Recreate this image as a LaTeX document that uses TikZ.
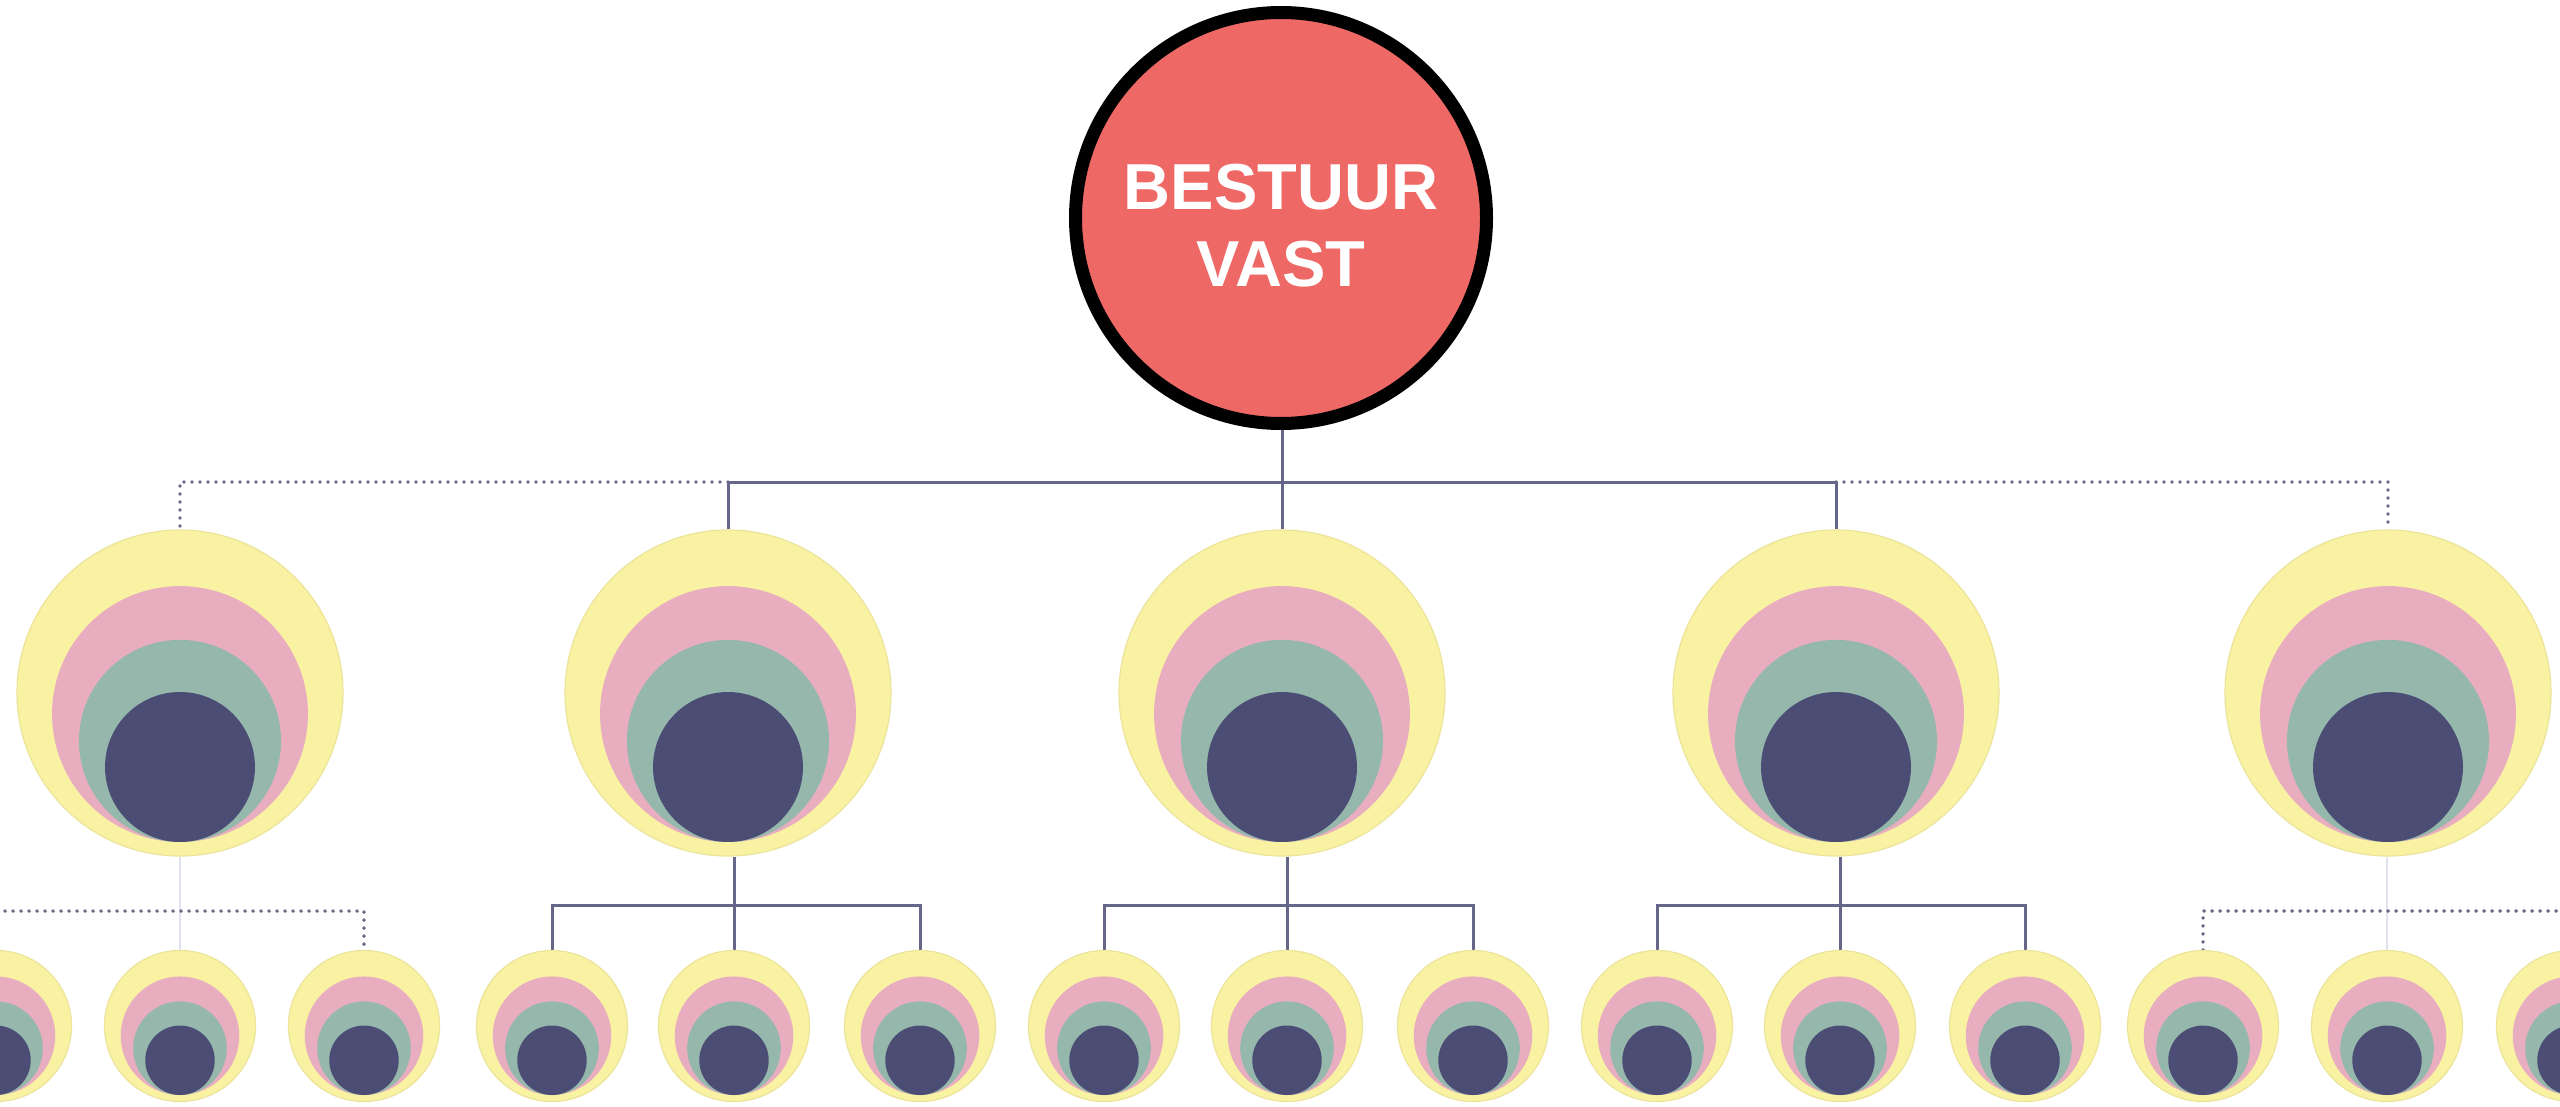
\documentclass[tikz,border=0pt]{standalone}
\usepackage{fontspec}
\setmainfont{Liberation Sans}
\usetikzlibrary{backgrounds}
\definecolor{yellowc}{HTML}{F9F2A2}
\definecolor{yellowedge}{HTML}{ECE49A}
\definecolor{pinkc}{HTML}{E8AEBF}
\definecolor{greenc}{HTML}{96B7AC}
\definecolor{navyc}{HTML}{4B4D74}
\definecolor{topfill}{HTML}{EE6966}
\definecolor{connc}{HTML}{66668A}
\definecolor{dotc}{HTML}{6A6A86}
\definecolor{faintc}{HTML}{E2E2EE}
\tikzset{
  yel/.style={circle, inner sep=0pt, fill=yellowc, draw=yellowedge, line width=1.2pt},
  topnode/.style={circle, inner sep=0pt, fill=topfill, draw=black, line width=13pt, minimum size=411pt},
  toptext/.style={text=white, align=center, font=\fontsize{65}{77}\selectfont\bfseries},
  conn/.style={draw=connc, line width=3pt},
  dotl/.style={draw=dotc, line width=3.8pt, line cap=round, dash pattern=on 0pt off 8pt},
  faint/.style={draw=faintc, line width=2pt}
}
\newcommand\target[4]{%
  \node[yel, minimum size={2*#4*1pt}] (#1) at (#2,#3) {};
  \fill[pinkc] (#2,{#3+0.129*#4}) circle[radius={0.785*#4*1pt}];
  \fill[greenc] (#2,{#3+0.294*#4}) circle[radius={0.62*#4*1pt}];
  \fill[navyc] (#2,{#3+0.454*#4}) circle[radius={0.46*#4*1pt}];
}
\begin{document}
\begin{tikzpicture}[x=1pt,y=-1pt]
\useasboundingbox (0,0) rectangle (2560,1107);
% top node
\node[topnode] (top) at (1281,218) {};
\node[toptext] (toplabel) at (1281,226) {BESTUUR\\VAST};
% level 2
\target{p1}{180}{693}{163}
\target{p2}{728}{693}{163}
\target{p3}{1282}{693}{163}
\target{p4}{1836}{693}{163}
\target{p5}{2388}{693}{163}
% level 3
\target{c11}{-4}{1026}{75.5}
\target{c12}{180}{1026}{75.5}
\target{c13}{364}{1026}{75.5}
\target{c21}{552}{1026}{75.5}
\target{c22}{734}{1026}{75.5}
\target{c23}{920}{1026}{75.5}
\target{c31}{1104}{1026}{75.5}
\target{c32}{1287}{1026}{75.5}
\target{c33}{1473}{1026}{75.5}
\target{c41}{1657}{1026}{75.5}
\target{c42}{1840}{1026}{75.5}
\target{c43}{2025}{1026}{75.5}
\target{c51}{2203}{1026}{75.5}
\target{c52}{2387}{1026}{75.5}
\target{c53}{2572}{1026}{75.5}
\coordinate (j0) at (1282,482);
\coordinate (jb) at (0,905);
\coordinate (jd) at (0,911);
\begin{scope}[on background layer]
\fill[white] (0,0) rectangle (2560,1107);
% top level connectors
\draw[conn] (top.south -| p3.north) -- (p3.north);
\draw[conn] (p2.north) -- (p2.north |- j0) -- (p4.north |- j0) -- (p4.north);
\draw[dotl] (p2.north |- j0) -- (p1.north |- j0) -- (p1.north);
\draw[dotl] (p4.north |- j0) -- (p5.north |- j0) -- (p5.north);
% group 1 (dotted)
\draw[faint] (c12.north |- p1.south) -- (c12.north);
\draw[dotl] (c11.north) -- (c11.north |- jd) -- (c13.north |- jd) -- (c13.north);
% group 2
\draw[conn] (c22.north |- p2.south) -- (c22.north);
\draw[conn] (c21.north) -- (c21.north |- jb) -- (c23.north |- jb) -- (c23.north);
% group 3
\draw[conn] (c32.north |- p3.south) -- (c32.north);
\draw[conn] (c31.north) -- (c31.north |- jb) -- (c33.north |- jb) -- (c33.north);
% group 4
\draw[conn] (c42.north |- p4.south) -- (c42.north);
\draw[conn] (c41.north) -- (c41.north |- jb) -- (c43.north |- jb) -- (c43.north);
% group 5 (dotted)
\draw[faint] (c52.north |- p5.south) -- (c52.north);
\draw[dotl] (c51.north) -- (c51.north |- jd) -- (c53.north |- jd) -- (c53.north);
\end{scope}
\end{tikzpicture}
\end{document}
